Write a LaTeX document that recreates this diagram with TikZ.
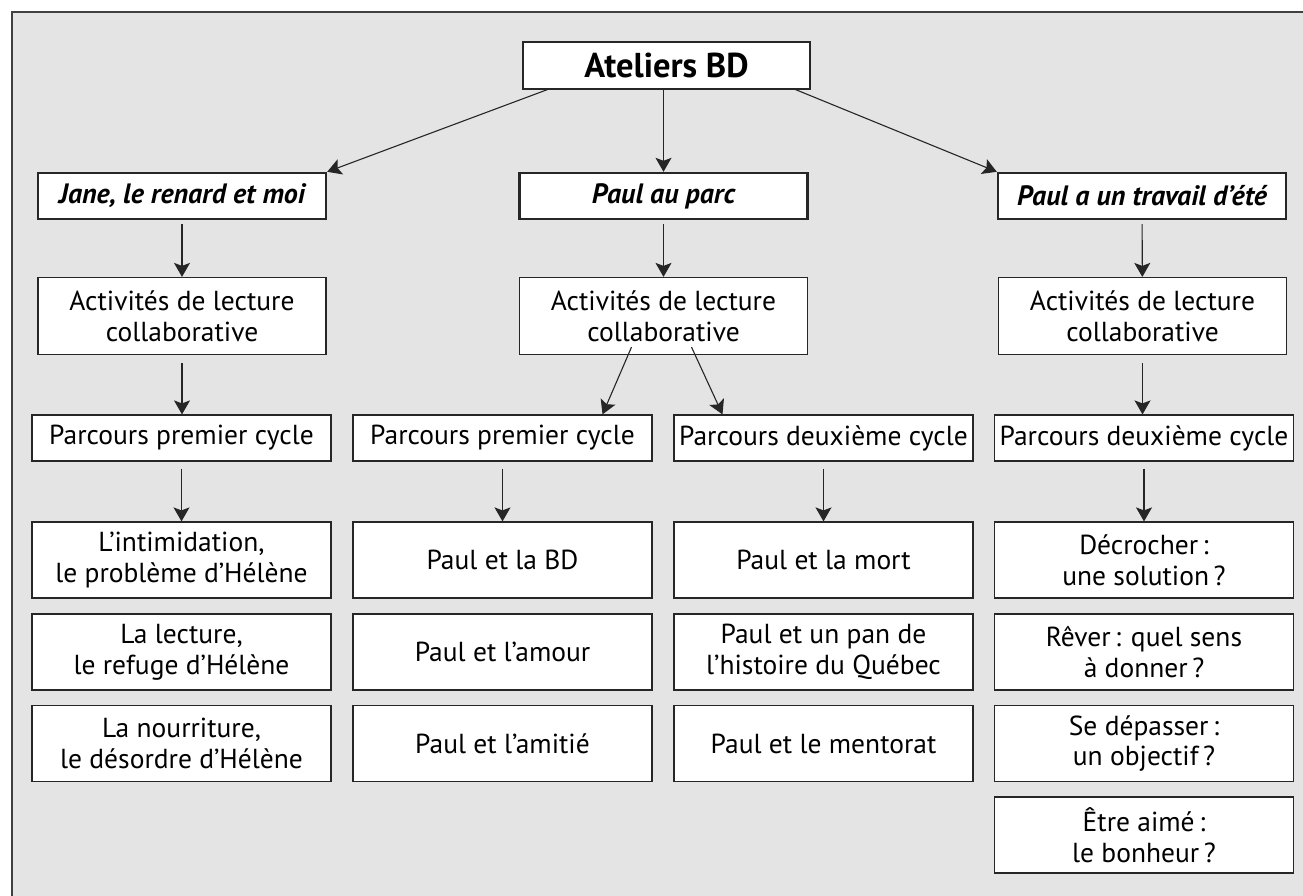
\documentclass[tikz,border=0pt]{standalone}
\usepackage{fontspec}
\setmainfont{PT Sans}
\usetikzlibrary{arrows.meta}
\definecolor{fond}{HTML}{E4E4E4}
\definecolor{cadre}{HTML}{404040}
\tikzset{
  boite/.style={draw=black!85, line width=1.2pt, fill=white, align=center, inner sep=0pt,
    font=\fontsize{27.5}{31}\selectfont, minimum width=299pt, minimum height=76pt},
  parcours/.style={boite, minimum height=46pt},
  activite/.style={boite, minimum width=288pt, minimum height=77pt},
  album/.style={boite, line width=2.4pt, minimum width=288pt, minimum height=46pt,
    font=\fontsize{28}{31}\selectfont\bfseries\itshape},
  titre/.style={boite, minimum width=287pt, minimum height=47pt,
    font=\fontsize{34.5}{38}\selectfont\bfseries},
  fleche/.style={-{Stealth[length=14pt,width=16pt,inset=3pt]}, line width=1.1pt, draw=black!85}
}
\begin{document}
\begin{tikzpicture}[x=1pt,y=-1pt]
\path[use as bounding box] (0,0) rectangle (1303,895);
\begin{scope}
\clip (0,0) rectangle (1303,895);
\draw[fill=fond, draw=cadre, line width=2pt] (12,12) rectangle (1330,920);
\end{scope}

\node[titre] (atel) at (666.5,65.5) {Ateliers BD};

\node[album] (jane) at (182,196) {Jane, le renard et moi};
\node[album] (parc) at (663.5,196) {Paul au parc};
\node[album] (ete) at (1142,196) {Paul a un travail d’été};

\node[activite] (actA) at (182,316) {Activités de lecture\\collaborative};
\node[activite] (actB) at (663.5,316) {Activités de lecture\\collaborative};
\node[activite] (actC) at (1142.5,316) {Activités de lecture\\collaborative};

\node[parcours] (parcA) at (181.5,438) {Parcours premier cycle};
\node[parcours] (parcB) at (502.5,438) {Parcours premier cycle};
\node[parcours] (parcD) at (823.5,438) {Parcours deuxième cycle};
\node[parcours] (parcC) at (1144,438) {Parcours deuxième cycle};

\node[boite] (intim) at (181.5,560) {L’intimidation,\\le problème d’Hélène};
\node[boite] (lect) at (181.5,652) {La lecture,\\le refuge d’Hélène};
\node[boite] (nour) at (181.5,743.5) {La nourriture,\\le désordre d’Hélène};

\node[boite] (bd) at (502.5,560) {Paul et la BD};
\node[boite] (amour) at (502.5,652) {Paul et l’amour};
\node[boite] (amit) at (502.5,743.5) {Paul et l’amitié};

\node[boite] (mort) at (823.5,560) {Paul et la mort};
\node[boite] (quebec) at (823.5,652) {Paul et un pan de\\l’histoire du Québec};
\node[boite] (mentor) at (823.5,743.5) {Paul et le mentorat};

\node[boite] (decro) at (1144,560) {Décrocher\,:\\une solution\,?};
\node[boite] (rever) at (1144,652) {Rêver\,: quel sens\\à donner\,?};
\node[boite] (depas) at (1144,743.5) {Se dépasser\,:\\un objectif\,?};
\node[boite] (aime) at (1144,835) {Être aimé\,:\\le bonheur\,?};

\draw[fleche] ([xshift=25pt]atel.south west) -- (jane.north east);
\draw[fleche] (atel.south -| parc.north) -- (parc.north);
\draw[fleche] ([xshift=-15pt]atel.south east) -- (ete.north west);

\draw[fleche, shorten <=4pt] (jane) -- (actA);
\draw[fleche, shorten <=4pt] (parc) -- (actB);
\draw[fleche, shorten <=4pt] (ete) -- (actC);

\draw[fleche, shorten <=8pt] (actA.south) -- (actA.south |- parcA.north);
\draw[fleche] ([xshift=-32pt,yshift=8pt]actB.south) -- ([xshift=100pt]parcB.north);
\draw[fleche] ([xshift=28pt,yshift=8pt]actB.south) -- ([xshift=-101pt]parcD.north);
\draw[fleche, shorten <=8pt] (actC.south) -- (actC.south |- parcC.north);

\draw[fleche, shorten <=7pt] (parcA) -- (intim);
\draw[fleche, shorten <=7pt] (parcB) -- (bd);
\draw[fleche, shorten <=7pt] (parcD) -- (mort);
\draw[fleche, shorten <=7pt] (parcC) -- (decro);
\end{tikzpicture}
\end{document}
